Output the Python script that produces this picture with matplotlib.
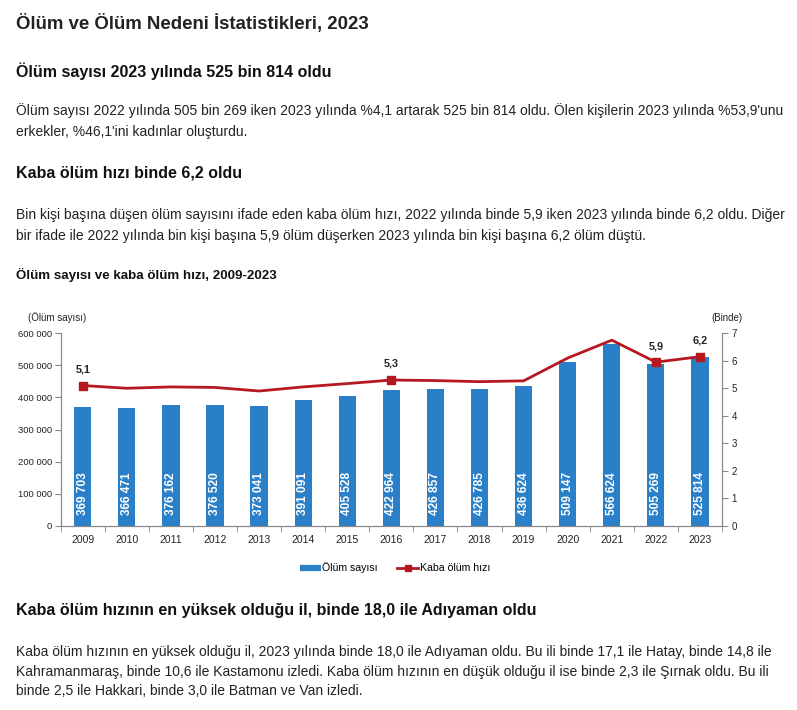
import matplotlib
matplotlib.use("Agg")
import matplotlib.pyplot as plt
from matplotlib.lines import Line2D
from matplotlib.ticker import FuncFormatter, FixedLocator

plt.rcParams['font.family'] = ['Liberation Sans', 'DejaVu Sans']

years = ['2009', '2010', '2011', '2012', '2013', '2014', '2015', '2016',
         '2017', '2018', '2019', '2020', '2021', '2022', '2023']
deaths = [369703, 366471, 376162, 376520, 373041, 391091, 405528, 422964,
          426857, 426785, 436624, 509147, 566624, 505269, 525814]
rate = [5.1, 5.0, 5.05, 5.03, 4.9, 5.05, 5.17, 5.3, 5.28, 5.24, 5.27, 6.1, 6.75, 5.95, 6.15]
rate_labels = {'2009': '5,1', '2016': '5,3', '2022': '5,9', '2023': '6,2'}

W, H = 797, 710
fig = plt.figure(figsize=(W / 100, H / 100), dpi=100)
fig.patch.set_facecolor('white')

def fx(x):
    return x / W

def fy(y):
    return 1 - y / H

TXT = '#222222'
PS = 10.0

fig.text(fx(16), fy(23), 'Ölüm ve Ölüm Nedeni İstatistikleri, 2023', fontsize=13.4, weight='bold',
         color='#222222', va='center', ha='left')
fig.text(fx(16), fy(71), 'Ölüm sayısı 2023 yılında 525 bin 814 oldu', fontsize=11.5, weight='bold',
         color='#111111', va='center', ha='left')
fig.text(fx(16), fy(111), "Ölüm sayısı 2022 yılında 505 bin 269 iken 2023 yılında %4,1 artarak 525 bin 814 oldu. Ölen kişilerin 2023 yılında %53,9'unu",
         fontsize=PS, color=TXT, va='center', ha='left')
fig.text(fx(16), fy(132), "erkekler, %46,1'ini kadınlar oluşturdu.",
         fontsize=PS, color=TXT, va='center', ha='left')
fig.text(fx(16), fy(173), 'Kaba ölüm hızı binde 6,2 oldu', fontsize=11.5, weight='bold',
         color='#111111', va='center', ha='left')
fig.text(fx(16), fy(215), 'Bin kişi başına düşen ölüm sayısını ifade eden kaba ölüm hızı, 2022 yılında binde 5,9 iken 2023 yılında binde 6,2 oldu. Diğer',
         fontsize=PS, color=TXT, va='center', ha='left')
fig.text(fx(16), fy(236), 'bir ifade ile 2022 yılında bin kişi başına 5,9 ölüm düşerken 2023 yılında bin kişi başına 6,2 ölüm düştü.',
         fontsize=PS, color=TXT, va='center', ha='left')
fig.text(fx(16), fy(275), 'Ölüm sayısı ve kaba ölüm hızı, 2009-2023', fontsize=9.6, weight='bold',
         color='#111111', va='center', ha='left')
fig.text(fx(16), fy(610), 'Kaba ölüm hızının en yüksek olduğu il, binde 18,0 ile Adıyaman oldu', fontsize=11.5,
         weight='bold', color='#111111', va='center', ha='left')
fig.text(fx(16), fy(652), 'Kaba ölüm hızının en yüksek olduğu il, 2023 yılında binde 18,0 ile Adıyaman oldu. Bu ili binde 17,1 ile Hatay, binde 14,8 ile',
         fontsize=PS, color=TXT, va='center', ha='left')
fig.text(fx(16), fy(672), 'Kahramanmaraş, binde 10,6 ile Kastamonu izledi. Kaba ölüm hızının en düşük olduğu il ise binde 2,3 ile Şırnak oldu. Bu ili',
         fontsize=PS, color=TXT, va='center', ha='left')
fig.text(fx(16), fy(691), 'binde 2,5 ile Hakkari, binde 3,0 ile Batman ve Van izledi.',
         fontsize=PS, color=TXT, va='center', ha='left')

left, right, top, bottom = 60.7, 722, 333.3, 525.7
ax = fig.add_axes([fx(left), fy(bottom), (right - left) / W, (bottom - top) / H])
BLUE = '#2a80c8'
RED = '#b5191f'
x = list(range(len(years)))
ax.bar(x, deaths, width=0.39, color=BLUE, zorder=2)
ax.set_xlim(-0.5, len(years) - 0.5)
ax.set_ylim(0, 600000)
ax.yaxis.set_major_locator(FixedLocator([0, 100000, 200000, 300000, 400000, 500000, 600000]))
ax.yaxis.set_major_formatter(FuncFormatter(lambda v, p: f'{int(v):,}'.replace(',', ' ')))
ax.set_xticks(x)
ax.set_xticklabels(years)
ax.set_xticks([i + 0.5 for i in range(-1, len(years))], minor=True)
ax.tick_params(axis='x', which='major', length=0, labelsize=7.5, pad=7, labelcolor='#222222')
ax.tick_params(axis='x', which='minor', length=4, color='#888888', direction='out')
ax.tick_params(axis='y', length=4, color='#888888', labelsize=6.8, labelcolor='#222222', pad=2)
ax.spines['top'].set_visible(False)
for s in ['left', 'bottom', 'right']:
    ax.spines[s].set_color('#888888')
    ax.spines[s].set_linewidth(0.8)

for i, v in enumerate(deaths):
    ax.text(i, 33000, f'{v:,}'.replace(',', ' '), rotation=90, color='white', fontsize=8.6,
            weight='bold', ha='center', va='bottom', zorder=3)

ax2 = ax.twinx()
ax2.set_ylim(0, 7)
ax2.set_yticks(range(0, 8))
ax2.plot(x, rate, color=RED, lw=2, zorder=4)
mx = [i for i, y in enumerate(years) if y in rate_labels]
ax2.plot(mx, [rate[i] for i in mx], ls='none', marker='s', ms=6, color=RED, zorder=5)
for i in mx:
    ax2.annotate(rate_labels[years[i]], (i, rate[i]), xytext=(0, 8), textcoords='offset points',
                 ha='center', va='bottom', fontsize=7.8, weight='bold', color='#222222')
ax2.tick_params(axis='y', length=4, color='#888888', labelsize=7, labelcolor='#222222', pad=3)
ax2.spines['top'].set_visible(False)
for s in ['left', 'bottom', 'right']:
    ax2.spines[s].set_color('#888888')
    ax2.spines[s].set_linewidth(0.8)

fig.text(fx(28), fy(318), '(Ölüm sayısı)', fontsize=7, color='#222222', va='center', ha='left')
fig.text(fx(742), fy(318), '(Binde)', fontsize=7, color='#222222', va='center', ha='right')

handles = [Line2D([0], [0], color=BLUE, lw=4.5, solid_capstyle='butt'),
           Line2D([0], [0], color=RED, lw=2, marker='s', ms=5)]
fig.legend(handles, ['Ölüm sayısı', 'Kaba ölüm hızı'], loc='center', bbox_to_anchor=(fx(395), fy(568)),
           ncol=2, frameon=False, fontsize=7.6, handlelength=2.0, handletextpad=0.15, columnspacing=1.8)

fig.savefig('out.png', dpi=100, facecolor='white')
